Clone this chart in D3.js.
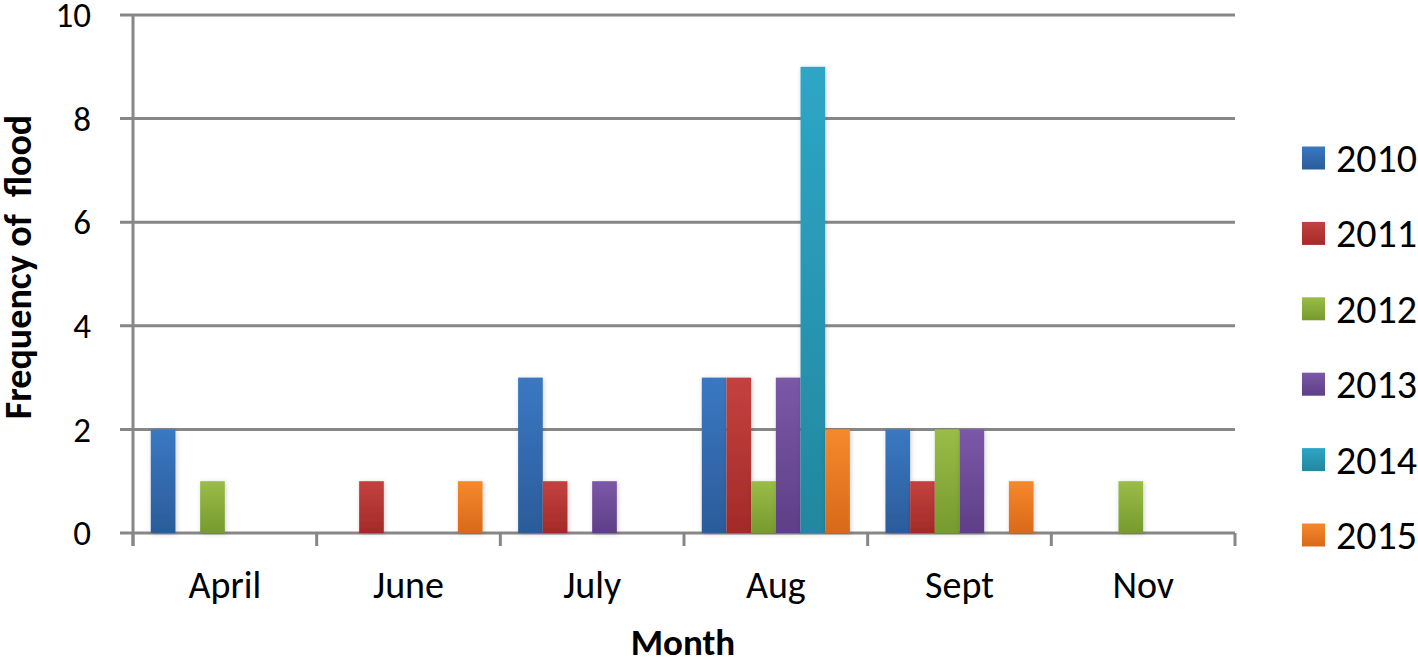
<!DOCTYPE html>
<html>
<head>
<meta charset="utf-8">
<script src="https://cdn.jsdelivr.net/npm/d3@7"></script>
<style>
  body { margin: 0; background: #fff; }
  svg { display: block; font-family: Carlito, Lato, 'Liberation Sans', sans-serif; }
</style>
</head>
<body>
<svg width="1418" height="663"></svg>
<script>
// chart data
const months = ['April', 'June', 'July', 'Aug', 'Sept', 'Nov']
const years = ['2010', '2011', '2012', '2013', '2014', '2015']
const values = {
  '2010': [2, 0, 3, 3, 2, 0],
  '2011': [0, 1, 1, 3, 1, 0],
  '2012': [1, 0, 0, 1, 2, 1],
  '2013': [0, 0, 1, 3, 2, 0],
  '2014': [0, 0, 0, 9, 0, 0],
  '2015': [0, 1, 0, 2, 1, 0],
}
const yTicks = [0, 2, 4, 6, 8, 10]

// top / bottom colour of each series gradient
const colors = {
  '2010': ['#3a78c2', '#2b5c9a'],
  '2011': ['#c3423f', '#a32a28'],
  '2012': ['#9abd48', '#769a2e'],
  '2013': ['#7b58a8', '#5d3f86'],
  '2014': ['#2ea6c6', '#22879f'],
  '2015': ['#f6892c', '#d8691a'],
}

const svg = d3.select('svg')
const plotLeft = 133, plotRight = 1235, plotTop = 15, plotBottom = 533

const x0 = d3.scaleBand().domain(months).range([plotLeft, plotRight])
const x1 = d3.scaleBand().domain(years).range([0, x0.bandwidth()]).paddingOuter(0.72)
const y = d3.scaleLinear().domain([0, 10]).range([plotBottom, plotTop])

// gradients
const defs = svg.append('defs')
years.forEach((yr) => {
  const g = defs.append('linearGradient')
    .attr('id', 'g' + yr)
    .attr('x1', 0).attr('y1', 0).attr('x2', 0).attr('y2', 1)
  g.append('stop').attr('offset', '0%').attr('stop-color', colors[yr][0])
  g.append('stop').attr('offset', '100%').attr('stop-color', colors[yr][1])
})
const shadow = defs.append('filter').attr('id', 'shadow')
  .attr('x', '-30%').attr('y', '-10%').attr('width', '160%').attr('height', '120%')
shadow.append('feDropShadow')
  .attr('dx', 1).attr('dy', 1).attr('stdDeviation', 2.5)
  .attr('flood-color', '#000').attr('flood-opacity', 0.18)

const gridColor = '#878787'

// gridlines
svg.append('g')
  .selectAll('line')
  .data(yTicks)
  .join('line')
  .attr('x1', plotLeft - 13).attr('x2', plotRight)
  .attr('y1', (d) => y(d)).attr('y2', (d) => y(d))
  .attr('stroke', gridColor).attr('stroke-width', 3)

// y axis line
svg.append('line')
  .attr('x1', plotLeft).attr('x2', plotLeft)
  .attr('y1', plotTop).attr('y2', plotBottom + 13)
  .attr('stroke', gridColor).attr('stroke-width', 3)

// x category ticks
const xTickPos = months.map((m) => x0(m) + x0.bandwidth()).concat([plotLeft])
svg.append('g')
  .selectAll('line')
  .data(xTickPos)
  .join('line')
  .attr('x1', (d) => d).attr('x2', (d) => d)
  .attr('y1', plotBottom).attr('y2', plotBottom + 13)
  .attr('stroke', gridColor).attr('stroke-width', 3)

// bars
const groups = svg.append('g')
  .selectAll('g')
  .data(months)
  .join('g')
  .attr('transform', (m) => `translate(${x0(m)},0)`)

groups.selectAll('rect')
  .data((m, i) => years.map((yr) => ({ yr, v: values[yr][i] })))
  .join('rect')
  .filter((d) => d.v > 0)
  .attr('x', (d) => x1(d.yr))
  .attr('width', x1.bandwidth())
  .attr('y', (d) => y(d.v))
  .attr('height', (d) => y(0) - y(d.v))
  .attr('fill', (d) => `url(#g${d.yr})`)
  .attr('filter', 'url(#shadow)')

// y tick labels
svg.append('g')
  .selectAll('text')
  .data(yTicks)
  .join('text')
  .attr('x', 91)
  .attr('y', (d) => y(d))
  .attr('dy', '0.35em')
  .attr('text-anchor', 'end')
  .attr('font-size', 35)
  .text((d) => d)

// x tick labels
svg.append('g')
  .selectAll('text')
  .data(months)
  .join('text')
  .attr('x', (m) => x0(m) + x0.bandwidth() / 2)
  .attr('y', 598)
  .attr('text-anchor', 'middle')
  .attr('font-size', 38)
  .text((m) => m)

// axis titles
svg.append('text')
  .attr('x', 683).attr('y', 655)
  .attr('text-anchor', 'middle')
  .attr('font-size', 37)
  .attr('font-weight', 'bold')
  .text('Month')

svg.append('text')
  .attr('transform', `translate(31,${(plotTop + plotBottom) / 2 - 7}) rotate(-90)`)
  .attr('text-anchor', 'middle')
  .attr('font-size', 38)
  .attr('font-weight', 'bold')
  .style('white-space', 'pre')
  .text('Frequency of  flood')

// legend
const legend = svg.append('g')
  .selectAll('g')
  .data(years)
  .join('g')
  .attr('transform', (d, i) => `translate(1302,${158 + i * 75.4})`)

legend.append('rect')
  .attr('x', 0).attr('y', -11.5)
  .attr('width', 23).attr('height', 23)
  .attr('fill', (d) => `url(#g${d})`)

legend.append('text')
  .attr('x', 34).attr('y', 0)
  .attr('dy', '0.35em')
  .attr('font-size', 40)
  .text((d) => d)
</script>
</body>
</html>
